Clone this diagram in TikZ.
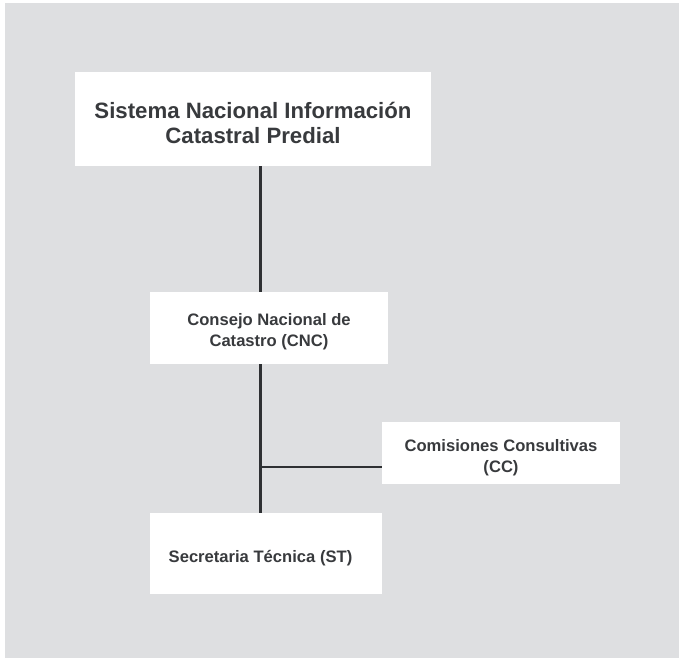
\documentclass[tikz,border=0pt]{standalone}
\usepackage{fontspec}
\setmainfont{Liberation Sans}
\definecolor{panel}{HTML}{DEDFE1}
\definecolor{ink}{HTML}{383A3D}
\definecolor{wire}{HTML}{2E3033}
\begin{document}
\begin{tikzpicture}[x=1pt,y=-1pt,
  orgbox/.style={fill=white, draw=none, inner sep=0pt},
  caption/.style={inner sep=0pt, align=center, text=ink},
  bigtext/.style={caption, font=\bfseries\fontsize{22.2}{24.8}\selectfont},
  smalltext/.style={caption, font=\bfseries\fontsize{16.6}{20.6}\selectfont},
  link/.style={draw=wire, line width=2.6pt}]
\useasboundingbox (0,0) rectangle (679,658);
% background panel
\fill[white] (0,0) rectangle (679,658);
\fill[panel] (5,3) rectangle (679,658);
% boxes, each with its caption as a centred label
\node[orgbox, minimum width=356pt, minimum height=94pt,
  label={[bigtext, yshift=-4pt]center:{Sistema Nacional Información\\Catastral Predial}}]
  (snicp) at (253,119) {};
\node[orgbox, minimum width=238pt, minimum height=72pt,
  label={[smalltext, yshift=-4pt]center:{Consejo Nacional de\\Catastro (CNC)}}]
  (cnc) at (269,328) {};
\node[orgbox, minimum width=238pt, minimum height=62pt,
  label={[smalltext, yshift=-4.5pt]center:{Comisiones Consultivas\\(CC)}}]
  (cc) at (501,453) {};
\node[orgbox, minimum width=232pt, minimum height=81pt,
  label={[smalltext, xshift=-5.5pt, yshift=-5pt]center:{Secretaria Técnica (ST)}}]
  (st) at (266,553.5) {};
% connectors
\coordinate (j) at (260.5,467);
\draw[link] (snicp.south -| j) -- (cnc.north -| j);
\draw[link] (cnc.south -| j) -- (st.north -| j);
\draw[link] (j) -- (cc.west |- j);
\end{tikzpicture}
\end{document}
